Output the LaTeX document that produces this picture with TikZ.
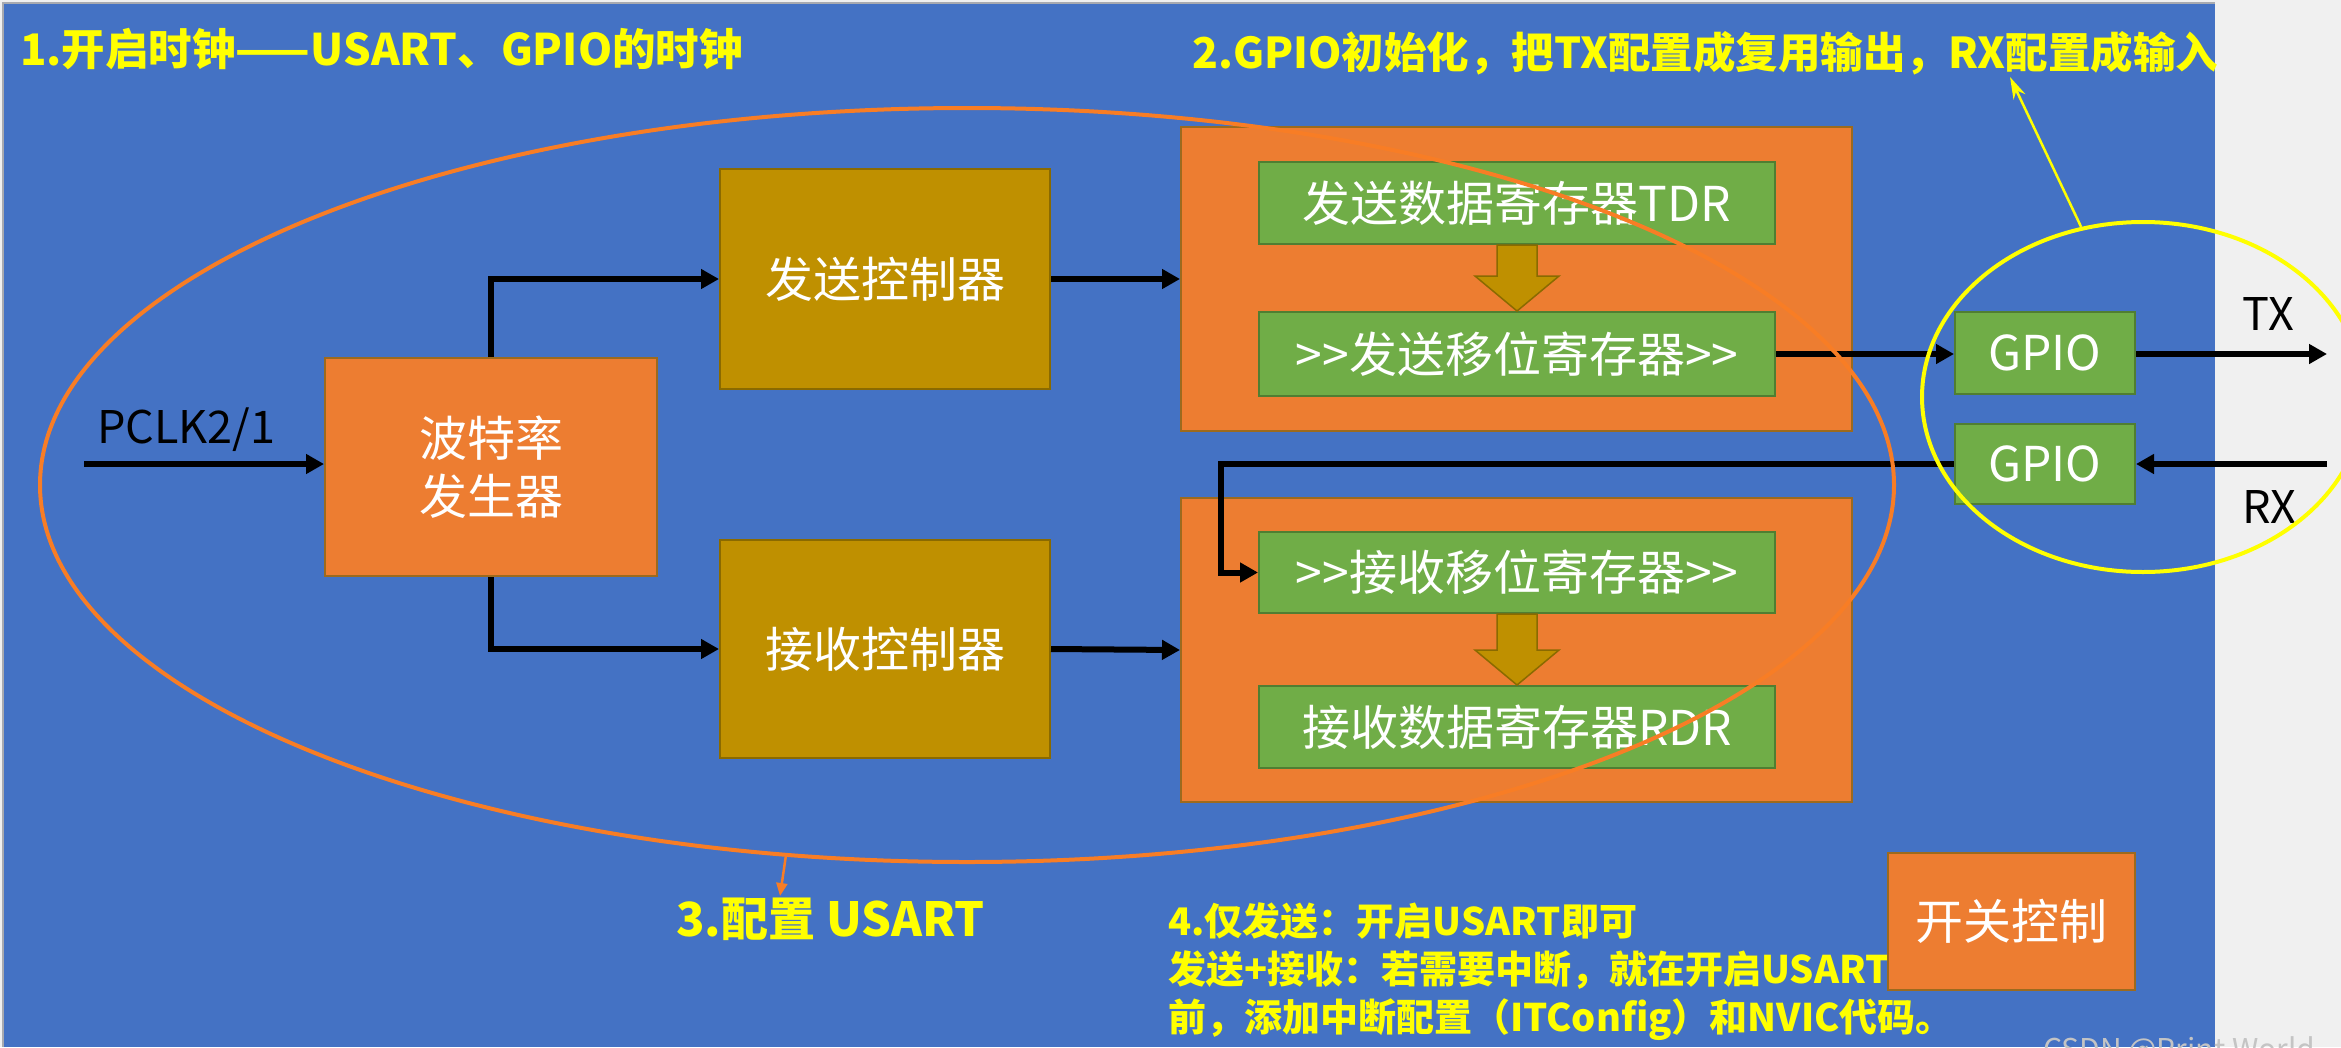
\documentclass[tikz,border=0pt]{standalone}
\usepackage{fontspec}
\setmainfont{Noto Sans CJK SC}
\usetikzlibrary{arrows.meta,calc,shapes.geometric}

\definecolor{pagegray}{HTML}{F0F0F0}
\definecolor{framegray}{HTML}{A8AAB0}
\definecolor{bgblue}{HTML}{4472C4}
\definecolor{orfill}{HTML}{ED7D31}
\definecolor{oredge}{HTML}{9C6A1E}
\definecolor{goldfill}{HTML}{BF9000}
\definecolor{goldedge}{HTML}{8A6A00}
\definecolor{grfill}{HTML}{70AD47}
\definecolor{gredge}{HTML}{507E32}
\definecolor{noteyellow}{HTML}{FFFF00}
\definecolor{ovalorange}{HTML}{F87D25}
\definecolor{markgray}{HTML}{C4C4C4}

% gold block arrow from the bottom of one register to the top of the next
\newcommand{\dropArrow}[2]{%
  \filldraw[fill=goldfill, draw=goldedge, line width=1.5pt]
    ($(#1)+(-20,0)$) -- ($(#2)+(-20,-35)$) -- ($(#2)+(-42,-35)$) -- (#2)
    -- ($(#2)+(42,-35)$) -- ($(#2)+(20,-35)$) -- ($(#1)+(20,0)$) -- cycle;}

\begin{document}
\begin{tikzpicture}[x=1pt,y=-1pt,
  orangebox/.style={fill=orfill, draw=oredge, line width=2pt, inner sep=0pt},
  goldbox/.style={fill=goldfill, draw=goldedge, line width=2pt, inner sep=0pt},
  greenbox/.style={fill=grfill, draw=gredge, line width=2pt, inner sep=0pt},
  wtext/.style={text=white, font=\fontsize{48}{58}\selectfont, align=center},
  ytitle/.style={text=noteyellow, inner sep=0pt, anchor=base west},
  blk/.style={text=black, inner sep=0pt, anchor=base west, font=\fontsize{45}{54}\selectfont},
  flow/.style={draw=black, line width=6pt, -{Triangle[length=18pt,width=19pt]}},
  hint/.style={line width=4pt}
]
\useasboundingbox (0,0) rectangle (2341,1047);

% background
\fill[pagegray] (0,0) rectangle (2341,1047);
\fill[bgblue] (3,3) rectangle (2215,1047);
\draw[framegray, line width=2pt] (3,1047) -- (3,3) -- (2215,3);

% headings and notes
\node[ytitle, font=\bfseries\fontsize{43.5}{50}\selectfont] (step1) at (20,65) {1.开启时钟——USART、GPIO的时钟};
\node[ytitle, font=\bfseries\fontsize{42.5}{50}\selectfont] (step2) at (1192,68) {2.GPIO初始化，把TX配置成复用输出，RX配置成输入};
\node[ytitle, font=\bfseries\fontsize{47}{54}\selectfont] (step3) at (676,936) {3.配置 USART};
\node[ytitle, font=\bfseries\fontsize{38}{48}\selectfont] (step4a) at (1168,935) {4.仅发送：开启USART即可};
\node[ytitle, font=\bfseries\fontsize{38}{48}\selectfont] (step4b) at (1168,983) {发送+接收：若需要中断，就在开启USART};
\node[ytitle, font=\bfseries\fontsize{38}{48}\selectfont] (step4c) at (1168,1031) {前，添加中断配置（ITConfig）和NVIC代码。};

% blocks
\node[orangebox, minimum width=332pt, minimum height=218pt, wtext] (baud) at (491,467) {波特率\\发生器};
\node[goldbox, minimum width=330pt, minimum height=220pt, wtext] (txctl) at (885,279) {发送控制器};
\node[goldbox, minimum width=330pt, minimum height=218pt, wtext] (rxctl) at (885,649) {接收控制器};

\node[orangebox, minimum width=671pt, minimum height=304pt] (txunit) at (1516.5,279) {};
\node[orangebox, minimum width=671pt, minimum height=304pt] (rxunit) at (1516.5,650) {};

\node[greenbox, minimum width=516pt, minimum height=82pt, wtext] (tdr) at (1517,203) {发送数据寄存器TDR};
\node[greenbox, minimum width=516pt, minimum height=84pt, wtext] (txshift) at (1517,354) {>{}>发送移位寄存器>{}>};
\node[greenbox, minimum width=516pt, minimum height=81pt, wtext] (rxshift) at (1517,572.5) {>{}>接收移位寄存器>{}>};
\node[greenbox, minimum width=516pt, minimum height=82pt, wtext] (rdr) at (1517,727) {接收数据寄存器RDR};

\node[greenbox, minimum width=180pt, minimum height=82pt, wtext] (gpiotx) at (2045,353) {GPIO};
\node[greenbox, minimum width=180pt, minimum height=80pt, wtext] (gpiorx) at (2045,464) {GPIO};

\node[orangebox, minimum width=247pt, minimum height=137pt, wtext] (switch) at (2011.5,921.5) {开关控制};

% data movement inside the register blocks
\dropArrow{tdr.south}{txshift.north}
\dropArrow{rxshift.south}{rdr.north}

% signal labels
\node[blk] (pclk) at (97,443) {PCLK2/1};
\node[blk] (txlabel) at (2242,330) {TX};
\node[blk] (rxlabel) at (2242,523) {RX};

\coordinate (clkin) at (84,464);
\coordinate (txout) at (2327,354);
\coordinate (rxin) at (2327,464);
\coordinate (rxbend) at (1221,464);

% connectors
\draw[flow] (clkin) -- (clkin -| baud.west);
\draw[flow] (baud.north) |- (txctl.west);
\draw[flow] (baud.south) |- (rxctl.west);
\draw[flow] (txctl.east) -- (txunit.west);
\draw[flow] (rxctl.east) -- (rxunit.west);
\draw[flow] (txshift.east) -- (txshift.east -| gpiotx.west);
\draw[flow] (gpiotx.east |- txout) -- (txout);
\draw[flow] (rxin) -- (rxin -| gpiorx.east);
\draw[flow] (gpiorx.west) -- (rxbend) |- (rxshift.west);

% groupings
\node[ellipse, draw=ovalorange, hint, minimum width=1854pt, minimum height=754pt, inner sep=0pt] (usartoval) at (967,485) {};
\node[ellipse, draw=noteyellow, hint, minimum width=442pt, minimum height=350pt, inner sep=0pt] (gpiooval) at (2143,397) {};

\coordinate (step2tip) at (2010,77);
\coordinate (step3tip) at (780,896);
\draw[ovalorange, line width=2.5pt, -{Triangle[length=13pt,width=11pt]}] (usartoval.244) -- (step3tip);
\draw[noteyellow, line width=2.5pt, -{Stealth[length=22pt,width=13pt]}] (gpiooval.110) -- (step2tip);

% watermark along the lower edge
\node[text=markgray, inner sep=0pt, anchor=base west, font=\fontsize{30}{36}\selectfont] (mark) at (2043,1060) {CSDN @Print World};
\end{tikzpicture}
\end{document}
